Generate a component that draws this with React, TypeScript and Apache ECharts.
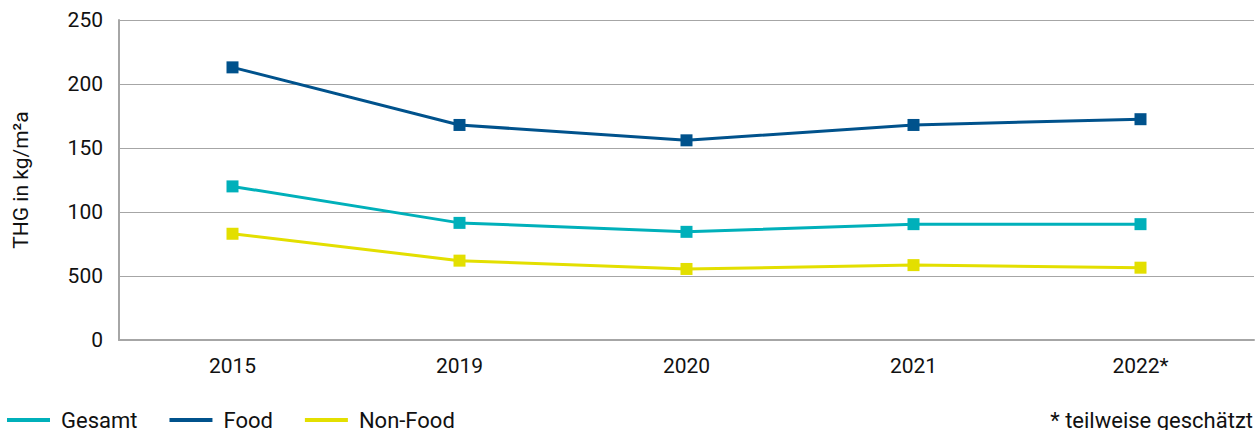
import React, { useEffect, useRef } from "react";
import * as echarts from "echarts";

const categories = ["2015", "2019", "2020", "2021", "2022*"];
const gesamt = [120, 91.5, 84.5, 90.5, 90.5];
const food = [213, 168, 156, 168, 172.5];
const nonFood = [83, 62, 55.5, 58.5, 56.5];
const yTickLabels: Record<number, string> = { 0: "0", 50: "500", 100: "100", 150: "150", 200: "200", 250: "250" };
const yAxisTitle = "THG in kg/m²a";
const footnote = "* teilweise geschätzt";

const FONT = "Roboto, 'Noto Sans', sans-serif";
const FS = 21;
const FS_LEG = 22;

export default function App() {
  const ref = useRef<HTMLDivElement>(null);
  useEffect(() => {
    if (!ref.current) return;
    const chart = echarts.init(ref.current, null, { renderer: "svg" });
    const mk = (name: string, data: number[], color: string) => ({
      name,
      type: "line",
      data,
      symbol: "rect",
      symbolSize: 12,
      lineStyle: { width: 3, color },
      itemStyle: { color },
    });
    chart.setOption({
      animation: false,
      textStyle: { fontFamily: FONT },
      grid: { left: 119, right: 1, top: 20, bottom: 90 },
      legend: {
        left: 7,
        top: 409,
        padding: 0,
        icon: "rect",
        itemWidth: 43,
        itemHeight: 4,
        itemGap: 32,
        textStyle: { fontSize: FS_LEG, color: "#111", fontFamily: FONT, padding: [0, 0, 0, 6] },
        data: ["Gesamt", "Food", "Non-Food"],
      },
      graphic: [
        {
          type: "text",
          right: 2,
          top: 409,
          style: { text: footnote, fontSize: FS_LEG, fill: "#111", fontFamily: FONT },
        },
      ],
      xAxis: {
        type: "category",
        data: categories,
        boundaryGap: true,
        axisLine: { lineStyle: { color: "#a6a6a6", width: 2 } },
        axisTick: { show: false },
        axisLabel: { fontSize: FS, color: "#111", margin: 15, fontFamily: FONT },
      },
      yAxis: {
        type: "value",
        min: 0,
        max: 250,
        interval: 50,
        name: yAxisTitle,
        nameLocation: "middle",
        nameGap: 88,
        nameTextStyle: { fontSize: FS, color: "#111", fontFamily: FONT },
        axisLine: { show: true, lineStyle: { color: "#a6a6a6", width: 2 } },
        axisTick: { show: false },
        axisLabel: {
          fontSize: FS,
          color: "#111",
          margin: 16,
          fontFamily: FONT,
          formatter: (v: number) => yTickLabels[v] ?? String(v),
        },
        splitLine: { lineStyle: { color: "#a6a6a6", width: 1 } },
      },
      series: [
        mk("Gesamt", gesamt, "#00b0ba"),
        mk("Food", food, "#00528c"),
        mk("Non-Food", nonFood, "#e3df00"),
      ],
    });
    return () => chart.dispose();
  }, []);
  return <div ref={ref} style={{ position: "absolute", left: 0, top: 0, width: 1255, height: 430 }} />;
}
